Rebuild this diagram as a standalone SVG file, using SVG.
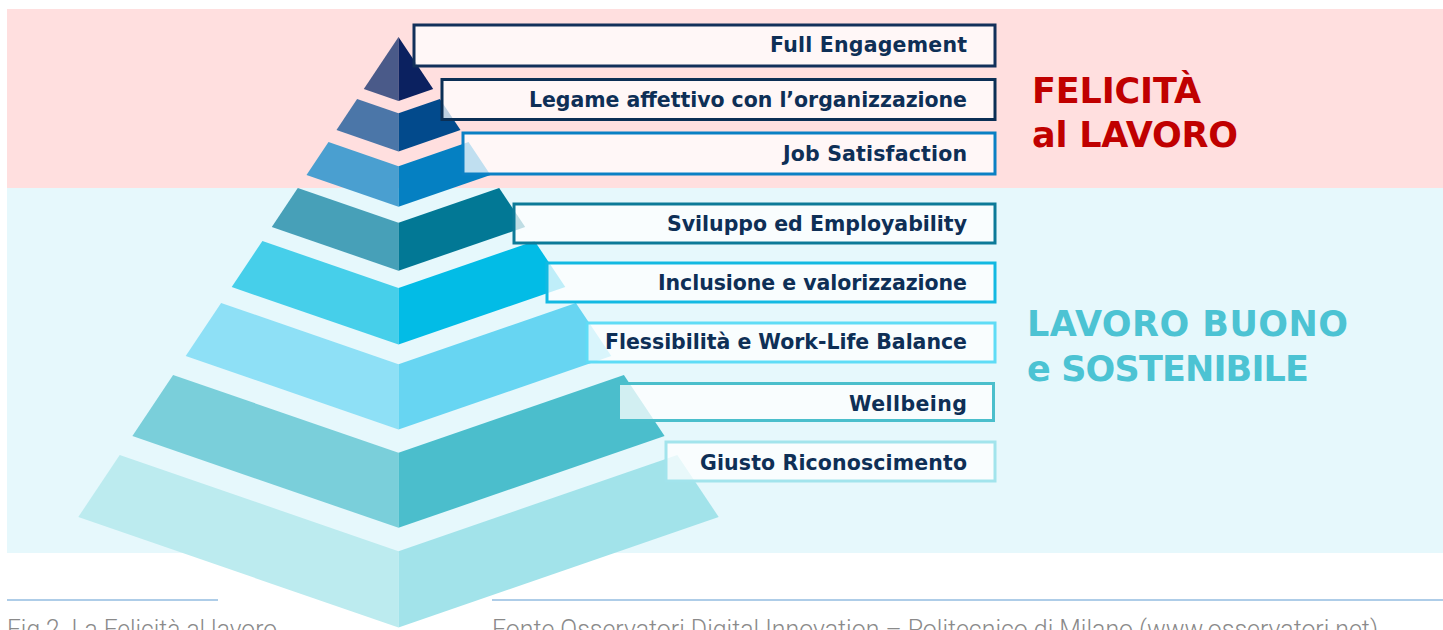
<svg xmlns="http://www.w3.org/2000/svg" width="1443" height="630" viewBox="0 0 1443 630">
  <style>
    .label { font-family: "DejaVu Sans", Inter, sans-serif; font-weight: 700; font-size: 20.5px; fill: #0e2f56; text-anchor: end; }
    .box { fill: #ffffff; fill-opacity: 0.75; stroke-width: 3; }
    .edge { fill: none; stroke-width: 3; }
    .title { font-family: "DejaVu Sans", Inter, sans-serif; font-weight: 700; font-size: 35px; }
    .caption { font-family: Roboto, "Liberation Sans", sans-serif; font-weight: 300; font-size: 25px; fill: #8a8a8a; }
    .rule { stroke: #93bde0; stroke-width: 1.5; }
  </style>

  <!-- background bands -->
  <rect x="7" y="9" width="1436" height="179" fill="#ffdfdf"/>
  <rect x="7" y="188" width="1436" height="365" fill="#e6f8fc"/>

  <!-- pyramid: each level is a left face and a right face -->
  <g id="pyramid">
    <g id="level-1">
      <polygon points="398.5,37 398.5,101 363.8,89" fill="#4a5a89"/>
      <polygon points="398.5,37 433.2,89 398.5,101" fill="#0b2160"/>
    </g>
    <g id="level-2">
      <polygon points="357.1,99 398.5,113.3 398.5,151.4 336.5,130" fill="#4b76a8"/>
      <polygon points="398.5,113.3 439.9,99 460.5,130 398.5,151.4" fill="#024a8c"/>
    </g>
    <g id="level-3">
      <polygon points="328.5,142 398.5,166.2 398.5,206.7 306.5,175" fill="#4a9fd0"/>
      <polygon points="398.5,166.2 468.5,142 490.5,175 398.5,206.7" fill="#0580c2"/>
    </g>
    <g id="level-4">
      <polygon points="297.8,188 398.5,222.7 398.5,270.7 271.8,227" fill="#47a0b8"/>
      <polygon points="398.5,222.7 499.2,188 525.2,227 398.5,270.7" fill="#027895"/>
    </g>
    <g id="level-5">
      <polygon points="262.4,241 398.5,288 398.5,344.5 231.7,287" fill="#46cfea"/>
      <polygon points="398.5,288 534.6,241 565.3,287 398.5,344.5" fill="#02bce6"/>
    </g>
    <g id="level-6">
      <polygon points="221.1,303 398.5,364.2 398.5,429.4 185.7,356" fill="#8ee0f6"/>
      <polygon points="398.5,364.2 575.9,303 611.3,356 398.5,429.4" fill="#67d5f2"/>
    </g>
    <g id="level-7">
      <polygon points="173.1,375 398.5,452.8 398.5,527.8 132.4,436" fill="#7acfda"/>
      <polygon points="398.5,452.8 623.9,375 664.6,436 398.5,527.8" fill="#4bbecc"/>
    </g>
    <g id="level-8">
      <polygon points="119.7,455 398.5,551.2 398.5,627.5 78.3,517" fill="#bcebef"/>
      <polygon points="398.5,551.2 677.3,455 718.7,517 398.5,627.5" fill="#a2e3ea"/>
    </g>
  </g>

  <!-- labelled boxes, top to bottom -->
  <g id="full-engagement">
    <rect class="box" x="414" y="25" width="581" height="41" stroke="#12305a"/>
    <text class="label" x="967" y="52" textLength="197">Full Engagement</text>
  </g>
  <g id="legame-affettivo">
    <rect class="box" x="442" y="79.5" width="553" height="40" stroke="#0b2f55"/>
    <text class="label" x="967" y="107" textLength="438">Legame affettivo con l’organizzazione</text>
  </g>
  <g id="job-satisfaction">
    <rect class="box" x="463" y="133" width="532" height="41" stroke="#0a80c4"/>
    <text class="label" x="967" y="161" textLength="184">Job Satisfaction</text>
  </g>
  <g id="sviluppo-employability">
    <rect class="box" x="514" y="204" width="481" height="39" stroke="#0c7a98"/>
    <text class="label" x="967" y="231" textLength="300">Sviluppo ed Employability</text>
  </g>
  <g id="inclusione-valorizzazione">
    <rect class="box" x="547" y="263" width="448" height="39" stroke="#12b9e2"/>
    <text class="label" x="967" y="290" textLength="309">Inclusione e valorizzazione</text>
  </g>
  <g id="flessibilita-work-life">
    <rect class="box" x="587" y="323" width="408" height="39" stroke="#5fdcf6"/>
    <text class="label" x="967" y="349" textLength="362">Flessibilità e Work-Life Balance</text>
  </g>
  <g id="wellbeing">
    <rect x="620" y="382" width="375" height="40" fill="#ffffff" fill-opacity="0.75"/>
    <path class="edge" d="M620,383.5 H993.5 V420.5 H620" stroke="#4bbfcc"/>
    <text class="label" x="967" y="411" textLength="118">Wellbeing</text>
  </g>
  <g id="giusto-riconoscimento">
    <rect class="box" x="666" y="442" width="329" height="39" stroke="#a2e4ec"/>
    <text class="label" x="967" y="470" textLength="267">Giusto Riconoscimento</text>
  </g>

  <!-- side titles -->
  <g id="felicita">
    <text class="title" fill="#c00000"><tspan x="1032" y="103" textLength="169">FELICITÀ</tspan><tspan x="1032" y="147" textLength="206">al LAVORO</tspan></text>
  </g>
  <g id="lavoro-buono">
    <text class="title" fill="#4cc3d3"><tspan x="1027" y="336" textLength="321">LAVORO BUONO</tspan><tspan x="1027" y="381" textLength="282">e SOSTENIBILE</tspan></text>
  </g>

  <!-- caption, running off the lower edge -->
  <g id="caption">
    <line class="rule" x1="7" y1="600" x2="218" y2="600"/>
    <line class="rule" x1="492" y1="600" x2="1443" y2="600"/>
    <text class="caption" x="7" y="638" textLength="270" lengthAdjust="spacingAndGlyphs">Fig.2. La Felicità al lavoro</text>
    <text class="caption" x="492" y="638" textLength="886" lengthAdjust="spacingAndGlyphs">Fonte Osservatori Digital Innovation – Politecnico di Milano (www.osservatori.net)</text>
  </g>
</svg>
